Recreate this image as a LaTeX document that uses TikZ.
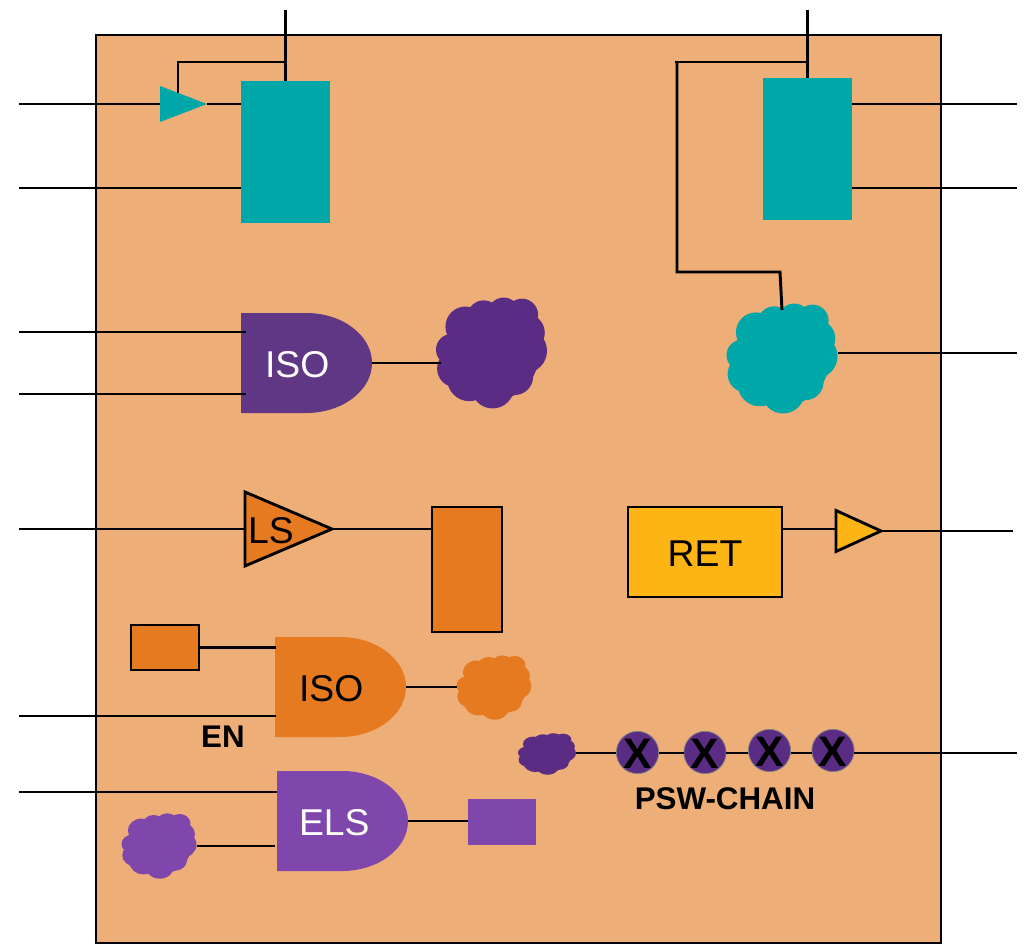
\documentclass[tikz,border=0pt]{standalone}
\usepackage{fontspec}
\setmainfont{Liberation Sans}
\usetikzlibrary{shapes.geometric}
\definecolor{chipbg}    {HTML}{EEAE78}
\definecolor{chipteal}  {HTML}{00A7A9}
\definecolor{chipviolet}{HTML}{5B2C83}
\definecolor{isoviolet} {HTML}{5F3785}
\definecolor{chiporange}{HTML}{E57A20}
\definecolor{chipyellow}{HTML}{FDB515}
\definecolor{chiplilac} {HTML}{7F46AB}
\begin{document}
\begin{tikzpicture}[
  x=0.75pt, y=-0.75pt,
  every node/.style={inner sep=0pt,outer sep=0pt},
  dim/.style 2 args={minimum width=#1*0.75pt,minimum height=#2*0.75pt},
  wire/.style ={line width=2.2pt},
  box/.style  ={draw,line width=2.15pt},
  lbl/.style  ={font=\fontsize{28}{30}\selectfont,text height=21.5pt,text depth=0pt},
  bold/.style ={font=\fontsize{23.5}{26}\selectfont\bfseries},
  tri/.style 2 args={isosceles triangle,isosceles triangle stretches,shape border rotate=0,
               minimum width=#2*0.75pt,minimum height=#1*0.75pt,anchor=apex},
  gate/.style n args={3}{dim={131}{100},lbl,text=#2,text width=#3*0.75pt,align=left,
               path picture={\fill[#1] (path picture bounding box.north west) -- ++(65,0)
                 arc[start angle=-90,end angle=90,x radius=66,y radius=50]
                 -- (path picture bounding box.south west) -- cycle;}},
  blob/.style n args={3}{minimum width=#2*1.5pt,minimum height=#3*1.5pt,
               path picture={\begin{scope}[x=#2*0.75pt,y=-#3*0.75pt]
                 \foreach \cx/\cy/\cr in {0/0/.86,-.47/-.47/.36,-.14/-.64/.30,.22/-.70/.29,.55/-.68/.29,
                     .62/-.36/.34,.60/-.04/.40,.42/.42/.33,.02/.60/.39,-.40/.46/.40,-.65/.28/.33,-.72/-.06/.28}
                   \fill[#1] (\cx,\cy) circle[radius=\cr];
               \end{scope}}},
  psw/.style  ={circle,fill=chipviolet,draw=gray,line width=0.6pt,minimum size=41*0.75pt,
               font=\fontsize{32}{34}\selectfont\bfseries,text height=23.5pt,text depth=0pt}
]
\useasboundingbox (0,0) rectangle (1025,945);

%% Block outline
\node[box,fill=chipbg,dim={845}{908}] (chip) at (518.5,489) {};

%% Top row: retained registers
\node[fill=chipteal,dim={89}{142}] (regl) at (285.5,152) {};
\node[fill=chipteal,dim={89}{142}] (regr) at (807.5,149) {};
\node[fill=chipteal,tri={47}{36}]  (bufl) at (207,104) {};

%% Isolation and level shifter cells
\node[gate={isoviolet}{white}{83}]  (isoa) at (306.5,363) {ISO};
\node[gate={chiporange}{black}{83}] (isob) at (340.5,687) {ISO};
\node[gate={chiplilac}{white}{87}]  (els)  at (342.5,821) {ELS};
\node[box,fill=chiporange,tri={87}{74}] (ls) at (332,529) {};
\node[lbl] (lstxt) at (271,529) {LS};

%% Registers and buffers
\node[box,fill=chiporange,dim={70}{125}]  (rega) at (467,569.5) {};
\node[box,fill=chiporange,dim={68}{45}]   (regb) at (165,647.5) {};
\node[fill=chiplilac,dim={68}{46}]        (regc) at (502,822) {};
\node[box,fill=chipyellow,dim={154}{90},lbl] (ret) at (705,552) {RET};
\node[box,fill=chipyellow,tri={45}{41}]   (bufr) at (881,531) {};

%% Clouds of logic
\node[blob={chipviolet}{55.5}{56}]   (logica) at (491.5,353) {};
\node[blob={chipteal}{55.5}{55.5}]   (logicb) at (782,358.5) {};
\node[blob={chiporange}{37.5}{32.5}] (logicc) at (494,687.5) {};
\node[blob={chipviolet}{29}{21}]     (logicd) at (547,754) {};
\node[blob={chiplilac}{37.5}{33}]    (logice) at (159,846) {};

%% Power switch chain
\node[psw] (swa) at (637.5,752.5) {X};
\node[psw] (swb) at (705,752.5) {X};
\node[psw] (swc) at (769.5,750.5) {X};
\node[psw] (swd) at (833,750.5) {X};

\node[bold] (entxt)  at (223,737) {EN};
\node[bold] (pswtxt) at (725,799) {PSW-CHAIN};

%% Free ends and bends
\coordinate (cka)  at (285.5,10);
\coordinate (ckb)  at (807.5,10);
\coordinate (cktl) at (285.5,62);
\coordinate (cktr) at (807.5,62);
\coordinate (ckel) at (675,62);
\coordinate (ckvt) at (677,62);
\coordinate (ckvb) at (677,272);
\coordinate (ckhb) at (780,272);
\coordinate (ckbuf) at (178,93);
\coordinate (ckcl) at (782,310);
\coordinate (ina)  at (19,104);
\coordinate (inb)  at (19,188);
\coordinate (inc)  at (19,332);
\coordinate (ind)  at (19,394);
\coordinate (ine)  at (19,529);
\coordinate (inf)  at (19,716);
\coordinate (ing)  at (19,792);
\coordinate (isoai) at (246,332);
\coordinate (isoaj) at (246,394);
\coordinate (isobi) at (276,647.5);
\coordinate (isobj) at (276,716);
\coordinate (elsi) at (277,792);
\coordinate (elsj) at (275,846);
\coordinate (retout) at (836,529);
\coordinate (outa) at (1017,104);
\coordinate (outb) at (1017,188);
\coordinate (outc) at (1017,353);
\coordinate (outd) at (1013,531);
\coordinate (oute) at (1017,753);

%% Clock and data wires, top row
\draw[wire] (cka) -- (regl.north);
\draw[wire] (ckb) -- (regr.north);
\draw[wire] (cktl) -| (ckbuf);
\draw[wire] (cktr) -- (ckel);
\draw[wire] (ckvt) -- (ckvb) -- (ckhb) -- (ckcl);
\draw[wire] (ina) -- (bufl.lower side);
\draw[wire] (bufl.apex) -- (bufl.apex -| regl.west);
\draw[wire] (inb) -- (inb -| regl.west);
\draw[wire] (regr.east |- outa) -- (outa);
\draw[wire] (regr.east |- outb) -- (outb);

%% Isolation wires
\draw[wire] (inc) -- (isoai);
\draw[wire] (ind) -- (isoaj);
\draw[wire] (isoa.east) -- ([xshift=3.75pt]isoa.east -| logica.west);
\draw[wire] (logicb.east |- outc) -- (outc);
\draw[wire] (ine) -- (ine -| ls.lower side);
\draw[wire] (ls.apex) -- (ls.apex -| rega.west);
\draw[wire] (regb.east) -- (isobi);
\draw[wire] (inf) -- (isobj);
\draw[wire] (isob.east) -- (isob.east -| logicc.west);
\draw[wire] (ing) -- (elsi);
\draw[wire] (logice.east) -- (elsj);
\draw[wire] (els.east) -- (els.east -| regc.west);

%% Retention output
\draw[wire] (ret.east |- retout) -- (retout);
\draw[wire] (bufr.apex) -- (outd);

%% Switch chain
\draw[wire] (logicd.east |- oute) -- (swa.west |- oute);
\draw[wire] (swa.east |- oute) -- (swb.west |- oute);
\draw[wire] (swb.east |- oute) -- (swc.west |- oute);
\draw[wire] (swc.east |- oute) -- (swd.west |- oute);
\draw[wire] (swd.east |- oute) -- (oute);

\end{tikzpicture}
\end{document}
